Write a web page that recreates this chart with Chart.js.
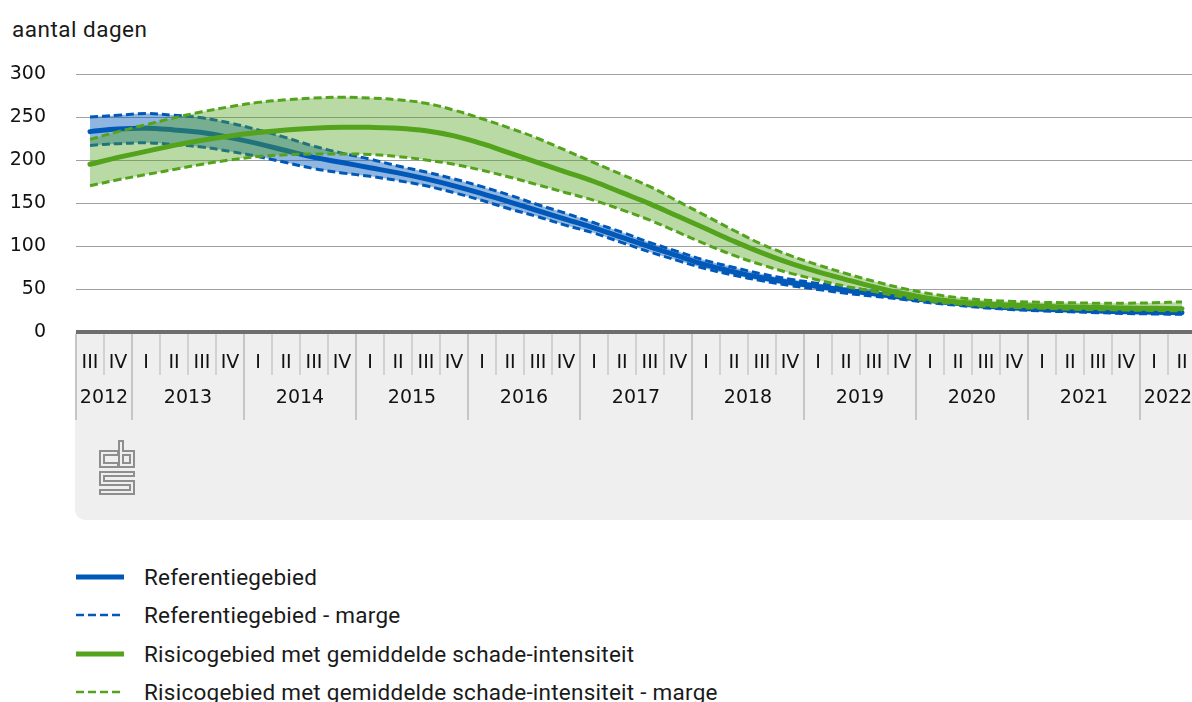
<!DOCTYPE html>
<html><head><meta charset="utf-8">
<script src="https://cdn.jsdelivr.net/npm/chart.js@4/dist/chart.umd.min.js"></script>
<style>
html,body{margin:0;padding:0;background:#fff;overflow:hidden;width:1192px;height:702px;}
#wrap{position:relative;width:1200px;height:702px;}
#title{position:absolute;left:12px;top:16px;font:22.5px Roboto, sans-serif;letter-spacing:0.5px;color:#1a1a1a;white-space:nowrap;}
canvas{position:absolute;left:0;top:0;}
.leg{position:absolute;left:76px;height:30px;display:flex;align-items:center;font:22.5px Roboto, sans-serif;letter-spacing:0.25px;color:#1a1a1a;white-space:nowrap;}
.leg svg{margin-right:20px;}
</style></head>
<body><div id="wrap"><div id="title">aantal dagen</div><canvas id="c" width="1200" height="530"></canvas><div id="legend"></div></div>
<script>
const quarterLabels = ['III','IV',
 'I','II','III','IV','I','II','III','IV','I','II','III','IV',
 'I','II','III','IV','I','II','III','IV','I','II','III','IV',
 'I','II','III','IV','I','II','III','IV','I','II','III','IV',
 'I','II'];
const yearLabels = ['2012','2013','2014','2015','2016','2017','2018','2019','2020','2021','2022'];
const yTickValues = [0,50,100,150,200,250,300];
const seriesNames = ['Referentiegebied','Referentiegebied - marge','Risicogebied met gemiddelde schade-intensiteit','Risicogebied met gemiddelde schade-intensiteit - marge'];

const refMain  = [233,236,237,235,232,226,219,211,203,197,191,185,178,170,161,151,141,131,121,110,99,88.5,78,70,63,57.5,53,48.5,44.5,40.5,36.5,33,30,28,26.5,25.5,24.5,23.5,23,22.5];
const refUpper = [250,252,254,252,249,243,235,226,216,208,201,193,186,178,169,159,148,138,127,116,104,93.5,83,75,67.5,61.5,56.5,52,47.5,43,39,35,32,30,28.5,27.5,26.5,25.5,25,24.5];
const refLower = [217,219,220,218,215,210,204,197,190,185,181,176,170,162,153,143,134,124,115,104,93,83,73.5,66,59.5,54,49.5,45,41.5,38,34,31,28,26,24.5,23.5,22.5,21.5,21,20.5];
const riskMain  = [195,203,210,217,223,228,232,235,237,238,238,237,234,228,219,208,197,186,175,162,149,134.5,120,105.5,92,80,70,61,52.5,45,39,35,32.5,31,30,29,28.5,28,27.5,27];
const riskUpper = [224,233,241,249,256,262,267,270,272,273,272,270,266,258,248,237,225,211,197,183,169,152,135,118,102,89,78,68,59,51,44.5,40,37,35.5,34.5,34,33.5,33.5,34,35];
const riskLower = [170,177,183,189,195,200,204,206,207,207,206.5,204,200,195,188,180,171,162,153,142,130,116,102,89,78,68.5,60.5,53,47,41,36,32.5,30,28.5,27.5,26.5,26,25.5,25,24.5];

const BLUE = '#0058b8', GREEN = '#53a31d';
const BLUE_FILL = 'rgba(0,88,184,0.44)', GREEN_FILL = 'rgba(83,163,29,0.40)';
const DASH = [8,4];
const TICK_FONT = {family:'DejaVu Sans', size:19};

const axisBox = {
  id:'axisBox',
  beforeDraw(chart){
    const {ctx, chartArea:a} = chart;
    const top = a.bottom, bottom = a.bottom + 188, left = a.left - 1, right = chart.width + 10, r = 12;
    ctx.save();
    ctx.fillStyle = '#efefef';
    ctx.beginPath();
    ctx.moveTo(left, top); ctx.lineTo(right, top); ctx.lineTo(right, bottom);
    ctx.lineTo(left + r, bottom); ctx.quadraticCurveTo(left, bottom, left, bottom - r);
    ctx.closePath(); ctx.fill();
    const logo = [
      [[116,453],[102,453],[102,465],[116,465]],
      [[121,443],[121,465],[132,465],[132,453],[121,453]],
      [[132,474],[102,474],[102,483],[132,483],[132,492],[102,492]]
    ];
    const ox = a.left - 76, oy = a.bottom - 332;
    [[6,'#8e8e8e'],[2,'#efefef']].forEach(([w,c])=>{
      ctx.lineWidth = w; ctx.strokeStyle = c; ctx.lineJoin='miter'; ctx.lineCap='square';
      logo.forEach(p=>{ ctx.beginPath(); p.forEach(([x,y],i)=> i?ctx.lineTo(x+ox,y+oy):ctx.moveTo(x+ox,y+oy)); ctx.stroke(); });
    });
    ctx.restore();
  },
  afterDraw(chart){
    const {ctx, chartArea:a} = chart;
    const xs = chart.scales.x;
    const half = (xs.getPixelForValue(1) - xs.getPixelForValue(0))/2;
    ctx.save();
    ctx.lineWidth = 2;
    const n = quarterLabels.length;
    for (let i = 0; i <= n; i++){
      const x = (i < n ? xs.getPixelForValue(i) - half : xs.getPixelForValue(n-1) + half);
      const isYear = i === 0 || (i < n && quarterLabels[i] === 'I');
      ctx.strokeStyle = isYear ? '#c6c6c6' : '#d2d2d2';
      ctx.beginPath(); ctx.moveTo(Math.round(x), a.bottom + 2); ctx.lineTo(Math.round(x), a.bottom + (isYear ? 88 : 43)); ctx.stroke();
    }
    ctx.fillStyle = '#111';
    ctx.font = '19px "DejaVu Sans"';
    ctx.textAlign = 'center'; ctx.textBaseline = 'middle';
    let start = 0, y = 0;
    for (let i = 1; i <= n; i++){
      if (i === n || quarterLabels[i] === 'I'){
        const x = (xs.getPixelForValue(start) + xs.getPixelForValue(i-1))/2;
        ctx.fillText(yearLabels[y], x, a.bottom + 66);
        start = i; y++;
      }
    }
    ctx.restore();
  }
};

const base = {pointRadius:0, pointHoverRadius:0, tension:0.4, fill:false};
new Chart(document.getElementById('c'), {
  type:'line',
  data:{
    labels: quarterLabels,
    datasets:[
      {...base, label:seriesNames[2], data:riskMain, borderColor:GREEN, borderWidth:5, borderCapStyle:'round'},
      {...base, label:seriesNames[3], data:riskUpper, borderColor:GREEN, borderWidth:3, borderDash:DASH},
      {...base, label:seriesNames[3], data:riskLower, borderColor:GREEN, borderWidth:3, borderDash:DASH},
      {...base, label:'', data:riskUpper, borderWidth:0, borderColor:'rgba(0,0,0,0)', backgroundColor:GREEN_FILL, fill:2},
      {...base, label:seriesNames[0], data:refMain, borderColor:BLUE, borderWidth:5, borderCapStyle:'round'},
      {...base, label:seriesNames[1], data:refUpper, borderColor:BLUE, borderWidth:3, borderDash:DASH},
      {...base, label:seriesNames[1], data:refLower, borderColor:BLUE, borderWidth:3, borderDash:DASH},
      {...base, label:'', data:refUpper, borderWidth:0, borderColor:'rgba(0,0,0,0)', backgroundColor:BLUE_FILL, fill:6}
    ]
  },
  options:{
    responsive:false, animation:false, devicePixelRatio:1,
    layout:{padding:{top:74, right:4, bottom:10, left:0}},
    plugins:{legend:{display:false}, tooltip:{enabled:false}, title:{display:false}},
    scales:{
      x:{
        type:'category', offset:true,
        grid:{display:false}, border:{display:false},
        ticks:{autoSkip:false, maxRotation:0, minRotation:0, font:TICK_FONT, color:'#111', padding:12},
        afterFit(s){ s.height = 188; }
      },
      y:{
        min:0, max:300,
        afterBuildTicks(s){ s.ticks = yTickValues.map(v=>({value:v})); },
        ticks:{font:TICK_FONT, color:'#111', padding:30},
        grid:{drawTicks:false, color:c=> c.tick && c.tick.value===0 ? '#6e6e6e' : '#a0a0a0', lineWidth:c=> c.tick && c.tick.value===0 ? 4 : 1},
        border:{display:false},
        afterFit(s){ s.width = 76; }
      }
    }
  },
  plugins:[axisBox]
});

const legendStyles = [
  {color:BLUE, dash:false}, {color:BLUE, dash:true}, {color:GREEN, dash:false}, {color:GREEN, dash:true}
];
const legendTop = [562, 600, 639, 677];
const legendEl = document.getElementById('legend');
seriesNames.forEach((name,i)=>{
  const st = legendStyles[i];
  const d = document.createElement('div');
  d.className = 'leg'; d.style.top = legendTop[i] + 'px';
  const line = st.dash
    ? `<line x1="0" y1="5" x2="48" y2="5" stroke="${st.color}" stroke-width="2.5" stroke-dasharray="8 4"/>`
    : `<line x1="0" y1="5" x2="48" y2="5" stroke="${st.color}" stroke-width="5"/>`;
  d.innerHTML = `<svg width="48" height="10">${line}</svg><span></span>`;
  d.querySelector('span').textContent = name;
  legendEl.appendChild(d);
});
</script>
</body></html>
